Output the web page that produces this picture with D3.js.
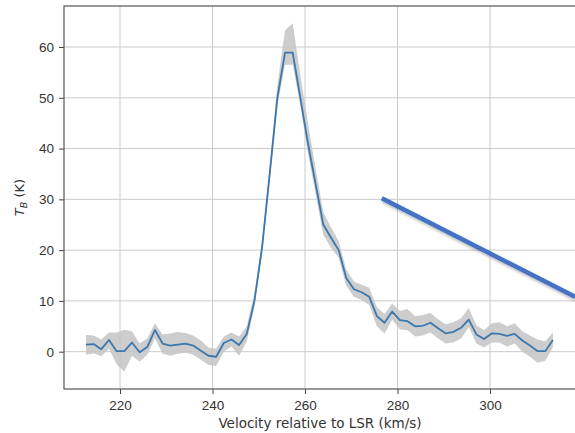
<!DOCTYPE html>
<html>
<head>
<meta charset="utf-8">
<script src="https://cdn.jsdelivr.net/npm/d3@7"></script>
<style>
  html, body { margin: 0; padding: 0; background: #fff; }
  svg { display: block; font-family: "DejaVu Sans", sans-serif; }
</style>
</head>
<body>
<div id="chart"></div>
<script>
// channel velocities (km/s)
const velocity = [
  212.65, 214.31, 215.96, 217.62, 219.27, 220.93, 222.58, 224.24, 225.89, 227.55,
  229.20, 230.86, 232.51, 234.17, 235.82, 237.48, 239.13, 240.79, 242.44, 244.10,
  245.75, 247.41, 249.06, 250.72, 252.37, 254.03, 255.68, 257.34, 258.99, 260.65,
  262.30, 263.96, 265.61, 267.27, 268.92, 270.58, 272.23, 273.89, 275.54, 277.20,
  278.85, 280.51, 282.16, 283.82, 285.47, 287.13, 288.78, 290.44, 292.09, 293.75,
  295.40, 297.06, 298.71, 300.37, 302.02, 303.68, 305.33, 306.99, 308.64, 310.30,
  311.95, 313.61
];
// brightness temperature (K)
const tb = [
  1.4, 1.5, 0.5, 2.3, 0.1, 0.1, 1.8, -0.1, 0.9, 4.3,
  1.6, 1.2, 1.4, 1.6, 1.2, 0.2, -0.8, -1.0, 1.7, 2.4,
  1.3, 3.5, 10.0, 20.5, 35.0, 50.0, 58.9, 58.9, 50.0, 41.0,
  33.0, 25.0, 22.5, 20.0, 14.5, 12.3, 11.7, 10.8, 7.0, 5.7,
  7.9, 6.2, 6.0, 5.0, 5.1, 5.7, 4.6, 3.6, 3.9, 4.7,
  6.3, 3.4, 2.5, 3.6, 3.5, 3.1, 3.5, 2.2, 1.2, 0.1,
  0.1, 2.3
];
const tbLow = [
  -0.6, -0.3, -0.9, 0.6, -2.5, -3.9, -0.8, -2.0, -0.6, 2.6,
  -0.4, -0.8, -0.4, -0.2, -0.6, -1.6, -2.6, -2.8, 0.0, 1.0,
  -0.8, 2.0, 8.8, 19.3, 33.5, 48.5, 56.5, 56.5, 48.5, 39.0,
  31.0, 23.0, 20.5, 18.5, 13.0, 10.8, 10.2, 9.2, 5.0, 3.6,
  6.3, 4.4, 4.2, 3.0, 3.2, 3.8, 2.6, 1.6, 1.8, 2.6,
  4.8, 1.6, 0.8, 1.8, 1.8, 1.0, 1.6, 0.0, -1.0, -2.2,
  -1.8, 0.8
];
const tbHigh = [
  3.3, 3.2, 2.4, 3.8, 3.8, 4.3, 4.0, 1.6, 2.6, 5.6,
  3.4, 3.6, 3.9, 3.7, 3.2, 2.2, 0.8, 0.6, 3.0, 3.8,
  3.0, 5.0, 11.4, 21.8, 36.5, 52.5, 63.3, 64.7, 54.5, 45.0,
  36.0, 27.5, 24.5, 21.8, 16.2, 13.8, 13.2, 12.6, 8.8, 7.4,
  9.5, 8.0, 8.4, 7.0, 7.2, 7.6, 6.4, 5.4, 5.8, 6.6,
  8.6, 5.2, 4.2, 5.6, 5.8, 5.0, 5.6, 4.0, 3.2, 2.4,
  2.0, 3.8
];
const xTicks = [220, 240, 260, 280, 300];
const yTicks = [0, 10, 20, 30, 40, 50, 60];
// overlay pointer line, in data coordinates
const pointerLine = [[276.6, 30.2], [318.4, 10.8]];

const width = 575, height = 433;
const plot = { left: 64, top: 6, right: 578, bottom: 389 };

const svg = d3.select("#chart").append("svg")
  .attr("width", width)
  .attr("height", height);

const x = d3.scaleLinear().domain([207.89, 319.03]).range([plot.left, plot.right]);
const y = d3.scaleLinear().domain([-7.35, 68.08]).range([plot.bottom, plot.top]);

const data = velocity.map((v, i) => ({ v, t: tb[i], lo: tbLow[i], hi: tbHigh[i] }));

// grid
svg.append("g")
  .selectAll("line")
  .data(xTicks)
  .join("line")
  .attr("x1", d => x(d)).attr("x2", d => x(d))
  .attr("y1", plot.top).attr("y2", plot.bottom)
  .attr("stroke", "#cbcbcb").attr("stroke-width", 1);

svg.append("g")
  .selectAll("line")
  .data(yTicks)
  .join("line")
  .attr("x1", plot.left).attr("x2", plot.right)
  .attr("y1", d => y(d)).attr("y2", d => y(d))
  .attr("stroke", "#cbcbcb").attr("stroke-width", 1);

// uncertainty band
const band = d3.area()
  .x(d => x(d.v))
  .y0(d => y(d.lo))
  .y1(d => y(d.hi));

svg.append("path")
  .datum(data)
  .attr("fill", "#c4c4c4")
  .attr("fill-opacity", 0.85)
  .attr("d", band);

const line = d3.line()
  .x(d => x(d.v))
  .y(d => y(d.t));

svg.append("path")
  .datum(data)
  .attr("fill", "none")
  .attr("stroke", "#3a78b0")
  .attr("stroke-width", 1.8)
  .attr("stroke-linejoin", "round")
  .attr("d", line);

// axes
const xAxis = d3.axisBottom(x).tickValues(xTicks).tickSize(5).tickPadding(6).tickFormat(d3.format("d"));
const gx = svg.append("g")
  .attr("transform", `translate(0,${plot.bottom})`)
  .call(xAxis);
gx.select(".domain").remove();
gx.selectAll("line").attr("stroke", "#444");
gx.selectAll("text").attr("fill", "#333").style("font-size", "13.5px");

const yAxis = d3.axisLeft(y).tickValues(yTicks).tickSize(5).tickPadding(5);
const gy = svg.append("g")
  .attr("transform", `translate(${plot.left},0)`)
  .call(yAxis);
gy.select(".domain").remove();
gy.selectAll("line").attr("stroke", "#444");
gy.selectAll("text").attr("fill", "#333").style("font-size", "13.5px");

// frame
svg.append("rect")
  .attr("x", plot.left).attr("y", plot.top)
  .attr("width", plot.right - plot.left)
  .attr("height", plot.bottom - plot.top)
  .attr("fill", "none")
  .attr("stroke", "#555")
  .attr("stroke-width", 1.2);

// axis labels
svg.append("text")
  .attr("x", 320)
  .attr("y", 428)
  .attr("text-anchor", "middle")
  .attr("fill", "#333")
  .style("font-size", "13.5px")
  .text("Velocity relative to LSR (km/s)");

const yl = svg.append("text")
  .attr("transform", `translate(24,${(plot.top + plot.bottom) / 2}) rotate(-90)`)
  .attr("text-anchor", "middle")
  .attr("fill", "#333")
  .style("font-size", "13px");
yl.append("tspan").attr("font-style", "italic").text("T");
yl.append("tspan").attr("font-style", "italic").attr("font-size", "9.5px").attr("dy", 3).text("B");
yl.append("tspan").attr("dy", -3).text(" (K)");

// pointer overlay
const defs = svg.append("defs");
const shadow = defs.append("filter").attr("id", "shadow")
  .attr("x", "-10%").attr("y", "-10%").attr("width", "130%").attr("height", "130%");
shadow.append("feDropShadow")
  .attr("dx", 1).attr("dy", 2).attr("stdDeviation", 1.5)
  .attr("flood-color", "#000").attr("flood-opacity", 0.3);

svg.append("line")
  .attr("x1", x(pointerLine[0][0])).attr("y1", y(pointerLine[0][1]))
  .attr("x2", x(pointerLine[1][0])).attr("y2", y(pointerLine[1][1]))
  .attr("stroke", "#4472c4")
  .attr("stroke-width", 4.5)
  .attr("filter", "url(#shadow)");
</script>
</body>
</html>
